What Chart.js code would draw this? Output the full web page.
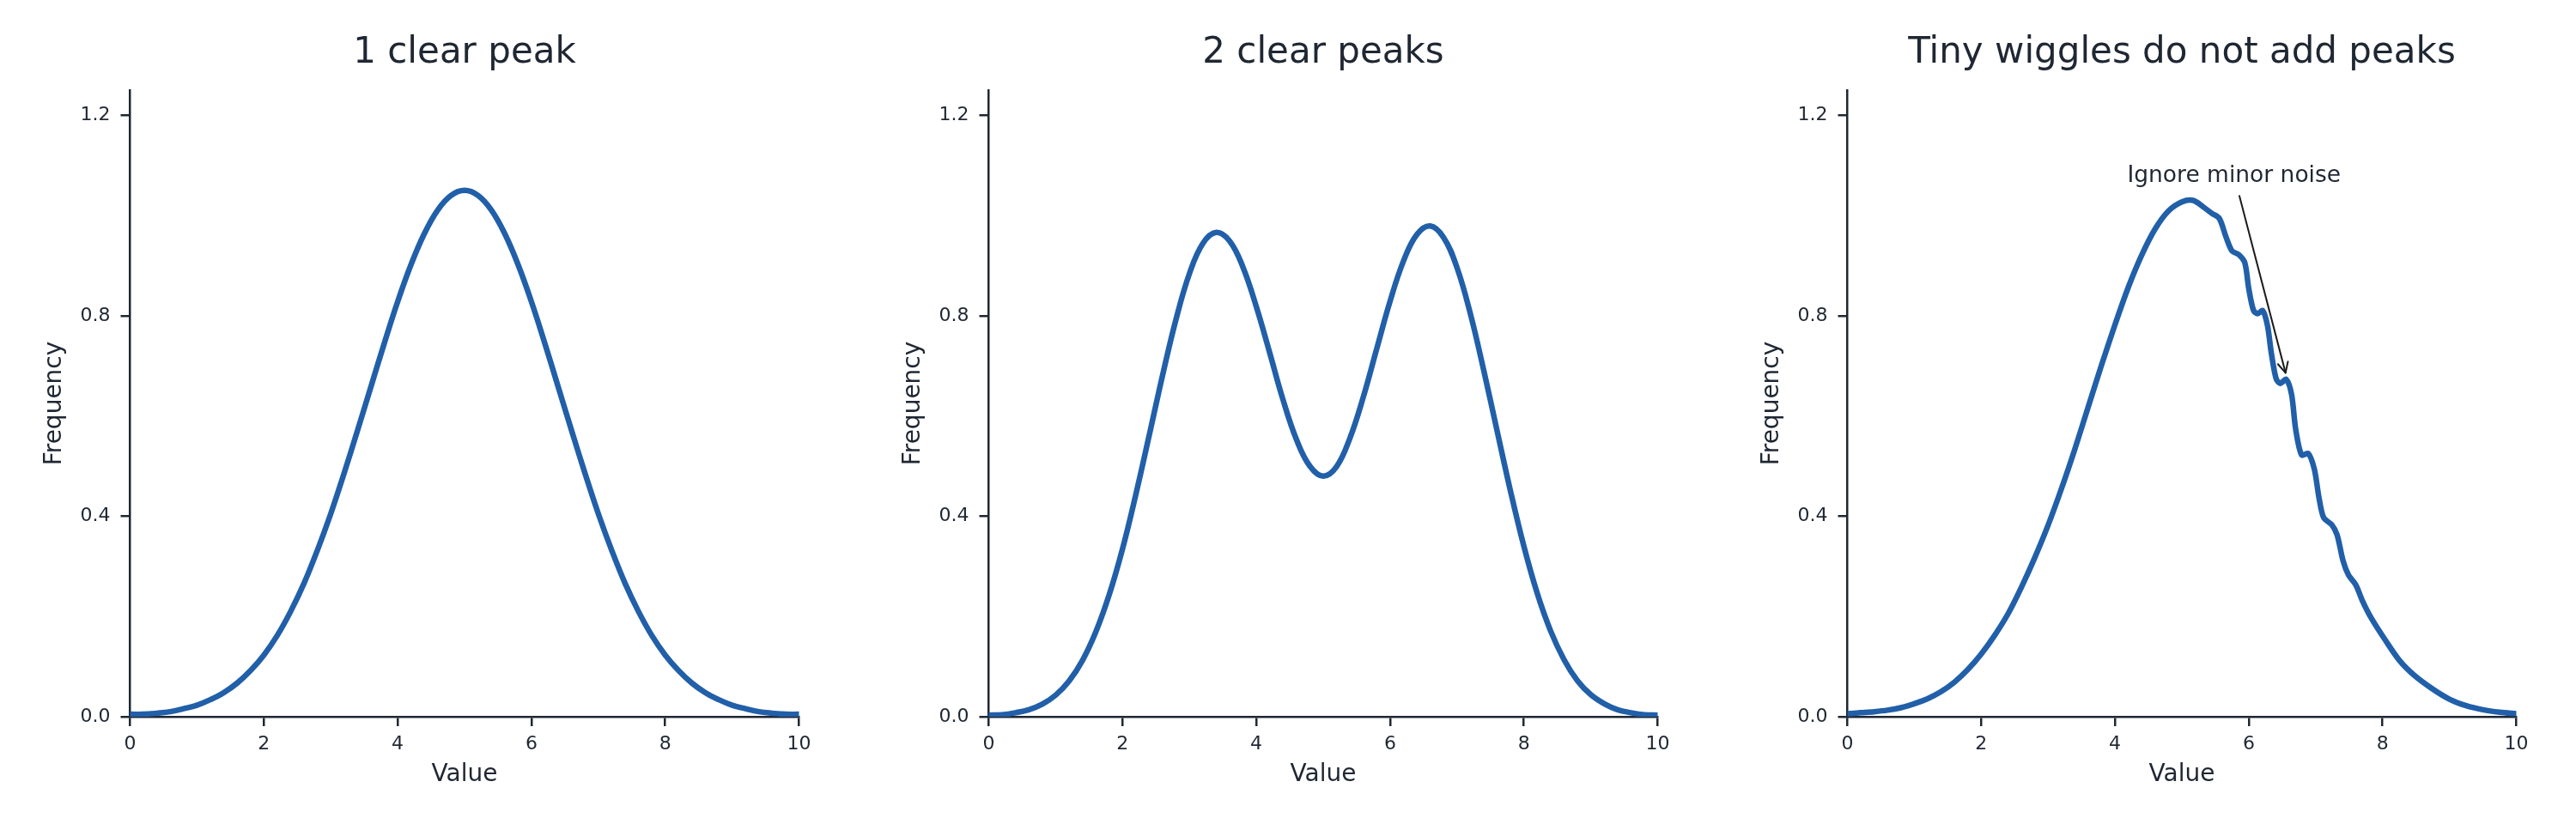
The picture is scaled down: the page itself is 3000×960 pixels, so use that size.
<!DOCTYPE html>
<html>
<head>
<meta charset="utf-8">
<script src="https://cdn.jsdelivr.net/npm/chart.js@4.4.1/dist/chart.umd.min.js"></script>
<style>
  html, body { margin: 0; padding: 0; background: #ffffff; }
  #wrap { position: relative; width: 3000px; height: 960px; background: #ffffff; }
  .panel { position: absolute; top: 0; width: 1000px; height: 960px; }
</style>
</head>
<body>
<div id="wrap">
  <div class="panel" style="left:0px"><canvas id="c1" width="1000" height="960"></canvas></div>
  <div class="panel" style="left:1000px"><canvas id="c2" width="1000" height="960"></canvas></div>
  <div class="panel" style="left:2000px"><canvas id="c3" width="1000" height="960"></canvas></div>
</div>
<script>
// ---------------- data ----------------
const panelTitles = ['1 clear peak', '2 clear peaks', 'Tiny wiggles do not add peaks'];
const xAxisLabel = 'Value';
const yAxisLabel = 'Frequency';
const xTicks = [0, 2, 4, 6, 8, 10];
const yTicks = [0.0, 0.4, 0.8, 1.2];

const gridX = [0,0.2,0.4,0.6,0.8,1.0,1.2,1.4,1.6,1.8,2.0,2.2,2.4,2.6,2.8,3.0,3.2,3.4,3.6,3.8,
  4.0,4.2,4.4,4.6,4.8,5.0,5.2,5.4,5.6,5.8,6.0,6.2,6.4,6.6,6.8,7.0,7.2,7.4,7.6,7.8,
  8.0,8.2,8.4,8.6,8.8,9.0,9.2,9.4,9.6,9.8,10.0];

const onePeakY = [0.005,0.005,0.007,0.010,0.016,0.023,0.034,0.048,0.067,0.092,0.123,0.162,0.210,0.266,0.332,0.405,
  0.486,0.571,0.658,0.745,0.828,0.902,0.964,1.011,1.040,1.050,1.040,1.011,0.964,0.902,0.828,0.745,0.658,
  0.571,0.486,0.405,0.332,0.266,0.210,0.162,0.123,0.092,0.067,0.048,0.034,0.023,0.016,0.010,0.007,0.005,0.005];

const twoPeakY = [0.003,0.004,0.008,0.014,0.025,0.043,0.071,0.112,0.169,0.243,0.335,0.444,0.562,0.682,0.793,0.884,
  0.944,0.966,0.949,0.897,0.818,0.726,0.632,0.553,0.500,0.480,0.499,0.556,0.638,0.734,0.829,0.909,0.962,
  0.979,0.956,0.896,0.804,0.691,0.570,0.450,0.340,0.246,0.171,0.114,0.072,0.044,0.026,0.014,0.008,0.004,0.003];

const noisyX = [0,0.2,0.4,0.6,0.8,1.0,1.2,1.4,1.6,1.8,2.0,2.2,2.4,2.6,2.8,3.0,3.2,3.4,3.6,3.8,4.0,4.2,4.4,4.6,4.8,5.0,
  5.17,5.32,5.45,5.56,5.66,5.75,5.85,5.94,6.0,6.07,6.13,6.21,6.28,6.34,6.41,6.47,6.56,6.64,
  6.7,6.79,6.89,6.98,7.05,7.12,7.24,7.32,7.41,7.49,7.6,7.7,7.83,8.05,8.26,8.47,8.73,9.0,9.25,9.5,9.75,10];
const noisyY = [0.006,0.008,0.010,0.013,0.018,0.026,0.036,0.050,0.069,0.094,0.125,0.162,0.205,0.258,0.317,0.382,0.455,0.534,0.618,0.702,
  0.782,0.857,0.921,0.973,1.009,1.027,
  1.030,1.017,1.004,0.994,0.957,0.929,0.922,0.906,0.854,0.811,0.804,0.810,0.780,0.723,0.674,0.665,0.673,0.643,
  0.575,0.522,0.525,0.494,0.437,0.397,0.383,0.363,0.311,0.283,0.263,0.231,0.197,0.151,0.111,0.083,0.057,0.035,0.022,0.014,0.009,0.006];

const noteText = 'Ignore minor noise';
const notePos = [5.78, 1.067];
const arrowFrom = [5.86, 1.039];
const arrowTo = [6.55, 0.686];

// ---------------- style ----------------
const FONT = "'DejaVu Sans', sans-serif";
const TXT = '#1f2733';
const AXIS = '#1f2733';
const LINE = '#215fa9';
Chart.defaults.font.family = FONT;

const titlePlugin = {
  id: 'panelTitle',
  afterDraw(chart, args, opts) {
    const {ctx, chartArea} = chart;
    ctx.save();
    ctx.font = '42px ' + FONT;
    ctx.fillStyle = TXT;
    ctx.textAlign = 'center';
    ctx.textBaseline = 'alphabetic';
    ctx.fillText(opts.text, (chartArea.left + chartArea.right) / 2, 73);
    ctx.restore();
  }
};

const notePlugin = {
  id: 'note',
  afterDatasetsDraw(chart, args, opts) {
    if (!opts.show) return;
    const {ctx, scales: {x, y}} = chart;
    ctx.save();
    ctx.font = '26.5px ' + FONT;
    ctx.fillStyle = TXT;
    ctx.textAlign = 'center';
    ctx.textBaseline = 'alphabetic';
    ctx.fillText(noteText, x.getPixelForValue(notePos[0]), y.getPixelForValue(notePos[1]));
    const x0 = x.getPixelForValue(arrowFrom[0]), y0 = y.getPixelForValue(arrowFrom[1]);
    const x1 = x.getPixelForValue(arrowTo[0]), y1 = y.getPixelForValue(arrowTo[1]);
    ctx.strokeStyle = '#1c1c1c';
    ctx.lineWidth = 2;
    ctx.lineCap = 'round';
    ctx.lineJoin = 'round';
    ctx.beginPath();
    ctx.moveTo(x0, y0);
    ctx.lineTo(x1, y1);
    ctx.stroke();
    const ang = Math.atan2(y1 - y0, x1 - x0);
    const hl = 12, hw = 6;
    const bx = x1 - hl * Math.cos(ang), by = y1 - hl * Math.sin(ang);
    const px = -Math.sin(ang) * hw, py = Math.cos(ang) * hw;
    ctx.beginPath();
    ctx.moveTo(bx + px, by + py);
    ctx.lineTo(x1, y1);
    ctx.lineTo(bx - px, by - py);
    ctx.stroke();
    ctx.restore();
  }
};

function makeChart(id, xs, ys, title, showNote, tension) {
  const pts = xs.map((v, i) => ({x: v, y: ys[i]}));
  return new Chart(document.getElementById(id), {
    type: 'line',
    data: {
      datasets: [{
        data: pts,
        borderColor: LINE,
        borderWidth: 6.5,
        pointRadius: 0,
        fill: false,
        tension: tension,
        borderCapStyle: 'round',
        borderJoinStyle: 'round'
      }]
    },
    options: {
      responsive: false,
      animation: false,
      devicePixelRatio: 1,
      layout: { padding: { top: 105, right: 69.5, bottom: 0, left: 0 } },
      plugins: {
        legend: { display: false },
        tooltip: { enabled: false },
        title: { display: false },
        panelTitle: { text: title },
        note: { show: showNote }
      },
      scales: {
        x: {
          type: 'linear', min: 0, max: 10,
          afterBuildTicks: (s) => { s.ticks = xTicks.map(v => ({value: v})); },
          ticks: { color: TXT, font: { size: 22 }, padding: 8, maxRotation: 0, autoSkip: false,
                   callback: (v) => String(v) },
          grid: { display: true, drawOnChartArea: false, drawTicks: true, tickLength: 11,
                  color: AXIS, lineWidth: 2.5 },
          border: { display: true, color: AXIS, width: 2.5 },
          title: { display: true, text: xAxisLabel, color: TXT, font: { size: 28 },
                   padding: { top: 0, bottom: 40 } },
          afterFit: (s) => { s.height = 125; }
        },
        y: {
          type: 'linear', min: 0, max: 1.25,
          afterBuildTicks: (s) => { s.ticks = yTicks.map(v => ({value: v})); },
          ticks: { color: TXT, font: { size: 22 }, padding: 12,
                   callback: (v) => Number(v).toFixed(1) },
          grid: { display: true, drawOnChartArea: false, drawTicks: true, tickLength: 11,
                  color: AXIS, lineWidth: 2.5 },
          border: { display: true, color: AXIS, width: 2.5 },
          title: { display: true, text: yAxisLabel, color: TXT, font: { size: 28 },
                   padding: { top: 47, bottom: 0 } },
          afterFit: (s) => { s.width = 151.5; }
        }
      }
    },
    plugins: [titlePlugin, notePlugin]
  });
}

makeChart('c1', gridX, onePeakY, panelTitles[0], false, 0.4);
makeChart('c2', gridX, twoPeakY, panelTitles[1], false, 0.4);
makeChart('c3', noisyX, noisyY, panelTitles[2], true, 0.3);
</script>
</body>
</html>
